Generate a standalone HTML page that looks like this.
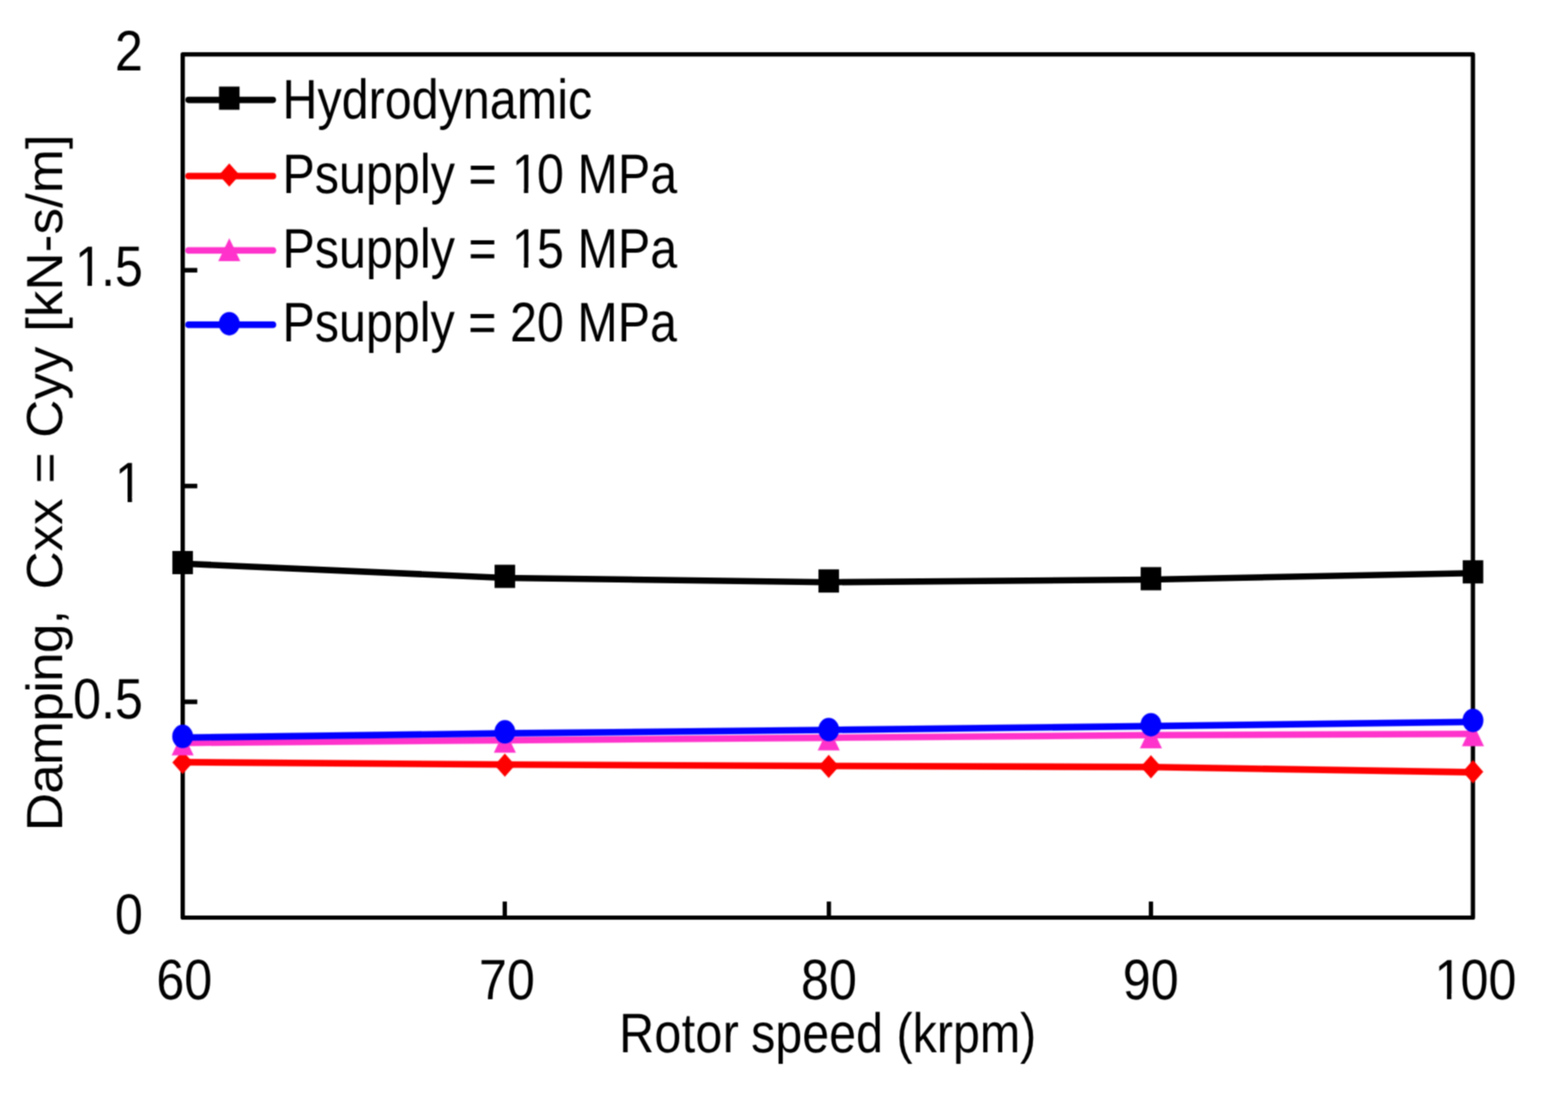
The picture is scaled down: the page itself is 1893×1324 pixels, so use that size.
<!DOCTYPE html>
<html lang="en"><head><meta charset="utf-8"><title>Damping vs rotor speed</title>
<style>html,body{margin:0;padding:0;background:#fff;}body{width:1893px;height:1324px;overflow:hidden;}svg{display:block;}text{font-family:"Liberation Sans",Arial,sans-serif;fill:#000;white-space:pre;font-kerning:none;text-rendering:geometricPrecision;}</style>
</head><body>
<svg width="1893" height="1324" viewBox="0 0 1893 1324">
<rect x="0" y="0" width="1893" height="1324" fill="#fff"/>
<defs><filter id="soft" x="0" y="0" width="1893" height="1324" filterUnits="userSpaceOnUse" color-interpolation-filters="sRGB"><feConvolveMatrix order="3" kernelMatrix="0.0529 0.1242 0.0529 0.1242 0.2916 0.1242 0.0529 0.1242 0.0529" edgeMode="duplicate"/></filter><clipPath id="c0"><path clip-rule="evenodd" d="M-50,-120H864.4V60H-50ZM475.23,-9H498.37V3H475.23ZM507.21,-9H526.23V3H507.21Z"/></clipPath><clipPath id="c1"><path clip-rule="evenodd" d="M-50,-120H864.4V60H-50ZM475.23,-9H498.37V3H475.23ZM507.21,-9H526.23V3H507.21Z"/></clipPath><clipPath id="c2"><path clip-rule="evenodd" d="M-50,-120H189.0V60H-50ZM5.50,-9H28.65V3H5.50ZM37.48,-9H56.50V3H37.48Z"/></clipPath><clipPath id="c3"><path clip-rule="evenodd" d="M-50,-120H109.1V60H-50ZM5.50,-9H28.65V3H5.50ZM37.48,-9H56.50V3H37.48Z"/></clipPath><clipPath id="c4"><path clip-rule="evenodd" d="M-50,-120H216.8V60H-50ZM5.50,-9H28.65V3H5.50ZM37.48,-9H56.50V3H37.48Z"/></clipPath></defs>
<g id="chart" filter="url(#soft)">
<rect x="0" y="0" width="1893" height="1324" fill="#fff"/>
<rect x="220.6" y="65.7" width="1557.6" height="1041.8" fill="none" stroke="#000" stroke-width="5.2" stroke-linejoin="round"/>
<line x1="220.6" y1="847.05" x2="238.20" y2="847.05" stroke="#000" stroke-width="5.5"/>
<line x1="220.6" y1="586.60" x2="238.20" y2="586.60" stroke="#000" stroke-width="5.5"/>
<line x1="220.6" y1="326.15" x2="238.20" y2="326.15" stroke="#000" stroke-width="5.5"/>
<line x1="609.40" y1="1107.5" x2="609.40" y2="1088.10" stroke="#000" stroke-width="5.2"/>
<line x1="1000.70" y1="1107.5" x2="1000.70" y2="1088.10" stroke="#000" stroke-width="5.2"/>
<line x1="1389.50" y1="1107.5" x2="1389.50" y2="1088.10" stroke="#000" stroke-width="5.2"/>
<polyline points="220.50,919.90 609.50,922.80 1000.50,924.50 1389.50,925.70 1778.30,932.10" fill="none" stroke="#ff0000" stroke-opacity="0.25" stroke-width="9.0" stroke-linejoin="round" stroke-linecap="round"/><polyline points="220.50,919.90 609.50,922.80 1000.50,924.50 1389.50,925.70 1778.30,932.10" fill="none" stroke="#ff0000" stroke-width="7.6" stroke-linejoin="round" stroke-linecap="round"/>
<polygon points="220.50,906.50 232.70,920.30 220.50,934.10 208.30,920.30" fill="#ff0000" stroke="#ff0000" stroke-opacity="0.25" stroke-width="1.4" stroke-linejoin="round"/>
<polygon points="609.50,909.70 621.70,923.50 609.50,937.30 597.30,923.50" fill="#ff0000" stroke="#ff0000" stroke-opacity="0.25" stroke-width="1.4" stroke-linejoin="round"/>
<polygon points="1000.50,911.20 1012.70,925.00 1000.50,938.80 988.30,925.00" fill="#ff0000" stroke="#ff0000" stroke-opacity="0.25" stroke-width="1.4" stroke-linejoin="round"/>
<polygon points="1389.50,911.70 1401.70,925.50 1389.50,939.30 1377.30,925.50" fill="#ff0000" stroke="#ff0000" stroke-opacity="0.25" stroke-width="1.4" stroke-linejoin="round"/>
<polygon points="1778.30,917.60 1790.50,931.40 1778.30,945.20 1766.10,931.40" fill="#ff0000" stroke="#ff0000" stroke-opacity="0.25" stroke-width="1.4" stroke-linejoin="round"/>
<polyline points="220.50,896.60 609.50,893.40 1000.50,890.40 1389.50,887.30 1778.30,885.70" fill="none" stroke="#ff33cc" stroke-opacity="0.25" stroke-width="9.0" stroke-linejoin="round" stroke-linecap="round"/><polyline points="220.50,896.60 609.50,893.40 1000.50,890.40 1389.50,887.30 1778.30,885.70" fill="none" stroke="#ff33cc" stroke-width="7.6" stroke-linejoin="round" stroke-linecap="round"/>
<polygon points="220.50,884.30 233.50,911.50 207.50,911.50" fill="#ff33cc" stroke="#ff33cc" stroke-opacity="0.25" stroke-width="1.4" stroke-linejoin="round"/>
<polygon points="609.50,881.10 622.50,908.30 596.50,908.30" fill="#ff33cc" stroke="#ff33cc" stroke-opacity="0.25" stroke-width="1.4" stroke-linejoin="round"/>
<polygon points="1000.50,878.40 1013.50,905.60 987.50,905.60" fill="#ff33cc" stroke="#ff33cc" stroke-opacity="0.25" stroke-width="1.4" stroke-linejoin="round"/>
<polygon points="1389.50,875.80 1402.50,903.00 1376.50,903.00" fill="#ff33cc" stroke="#ff33cc" stroke-opacity="0.25" stroke-width="1.4" stroke-linejoin="round"/>
<polygon points="1778.30,873.20 1791.30,900.40 1765.30,900.40" fill="#ff33cc" stroke="#ff33cc" stroke-opacity="0.25" stroke-width="1.4" stroke-linejoin="round"/>
<polyline points="220.50,890.30 609.50,885.10 1000.50,881.00 1389.50,876.40 1778.30,871.30" fill="none" stroke="#0000ff" stroke-opacity="0.25" stroke-width="9.0" stroke-linejoin="round" stroke-linecap="round"/><polyline points="220.50,890.30 609.50,885.10 1000.50,881.00 1389.50,876.40 1778.30,871.30" fill="none" stroke="#0000ff" stroke-width="7.6" stroke-linejoin="round" stroke-linecap="round"/>
<ellipse cx="220.50" cy="888.80" rx="12.40" ry="14.00" fill="#0000ff" stroke="#0000ff" stroke-opacity="0.25" stroke-width="1.4" stroke-linejoin="round"/>
<ellipse cx="609.50" cy="883.30" rx="12.40" ry="14.00" fill="#0000ff" stroke="#0000ff" stroke-opacity="0.25" stroke-width="1.4" stroke-linejoin="round"/>
<ellipse cx="1000.50" cy="880.60" rx="12.40" ry="14.00" fill="#0000ff" stroke="#0000ff" stroke-opacity="0.25" stroke-width="1.4" stroke-linejoin="round"/>
<ellipse cx="1389.50" cy="874.70" rx="12.40" ry="14.00" fill="#0000ff" stroke="#0000ff" stroke-opacity="0.25" stroke-width="1.4" stroke-linejoin="round"/>
<ellipse cx="1778.30" cy="869.50" rx="12.40" ry="14.00" fill="#0000ff" stroke="#0000ff" stroke-opacity="0.25" stroke-width="1.4" stroke-linejoin="round"/>
<polyline points="220.50,680.30 609.50,697.50 1000.50,702.70 1389.50,699.50 1778.30,691.70" fill="none" stroke="#000000" stroke-width="7.6" stroke-linejoin="round" stroke-linecap="round"/>
<rect x="208.10" y="665.00" width="24.80" height="28.00" fill="#000000"/>
<rect x="597.10" y="681.60" width="24.80" height="28.00" fill="#000000"/>
<rect x="988.10" y="687.20" width="24.80" height="28.00" fill="#000000"/>
<rect x="1377.10" y="684.45" width="24.80" height="28.00" fill="#000000"/>
<rect x="1765.90" y="676.20" width="24.80" height="28.00" fill="#000000"/>
<polyline points="227.60,120.6 329.5,120.6" fill="none" stroke="#000000" stroke-width="7.6" stroke-linejoin="round" stroke-linecap="round"/>
<rect x="264.40" y="104.50" width="24.80" height="28.00" fill="#000000"/>
<polyline points="227.60,212.5 329.5,212.5" fill="none" stroke="#ff0000" stroke-opacity="0.25" stroke-width="9.0" stroke-linejoin="round" stroke-linecap="round"/><polyline points="227.60,212.5 329.5,212.5" fill="none" stroke="#ff0000" stroke-width="7.6" stroke-linejoin="round" stroke-linecap="round"/>
<polygon points="276.80,197.50 289.00,211.30 276.80,225.10 264.60,211.30" fill="#ff0000" stroke="#ff0000" stroke-opacity="0.25" stroke-width="1.4" stroke-linejoin="round"/>
<polyline points="227.60,302.3 329.5,302.3" fill="none" stroke="#ff33cc" stroke-opacity="0.25" stroke-width="9.0" stroke-linejoin="round" stroke-linecap="round"/><polyline points="227.60,302.3 329.5,302.3" fill="none" stroke="#ff33cc" stroke-width="7.6" stroke-linejoin="round" stroke-linecap="round"/>
<polygon points="276.80,287.90 289.80,315.10 263.80,315.10" fill="#ff33cc" stroke="#ff33cc" stroke-opacity="0.25" stroke-width="1.4" stroke-linejoin="round"/>
<polyline points="227.60,391.9 329.5,391.9" fill="none" stroke="#0000ff" stroke-opacity="0.25" stroke-width="9.0" stroke-linejoin="round" stroke-linecap="round"/><polyline points="227.60,391.9 329.5,391.9" fill="none" stroke="#0000ff" stroke-width="7.6" stroke-linejoin="round" stroke-linecap="round"/>
<ellipse cx="276.80" cy="390.70" rx="12.40" ry="14.00" fill="#0000ff" stroke="#0000ff" stroke-opacity="0.25" stroke-width="1.4" stroke-linejoin="round"/>
<text transform="matrix(0.58500 0 0 0.67300 341.00 143.30)" font-size="100">Hydrodynamic</text>
<text transform="matrix(0.58500 0 0 0.67300 341.00 233.40)" font-size="100" dx="0 0 0 0 0 0 0 0 0 0 3.5 -3.5 0 0 0 0" clip-path="url(#c0)">Psupply = 10 MPa</text>
<text transform="matrix(0.58500 0 0 0.67300 341.00 322.90)" font-size="100" dx="0 0 0 0 0 0 0 0 0 0 3.5 -3.5 0 0 0 0" clip-path="url(#c1)">Psupply = 15 MPa</text>
<text transform="matrix(0.58500 0 0 0.67300 341.00 412.40)" font-size="100">Psupply = 20 MPa</text>
<text transform="matrix(0.60600 0 0 0.68800 138.80 85.30)" font-size="100">2</text>
<text transform="matrix(0.60600 0 0 0.68800 88.26 344.85)" font-size="100" dx="3.5 -3.5 0" clip-path="url(#c2)">1.5</text>
<text transform="matrix(0.60600 0 0 0.68800 136.68 606.20)" font-size="100" dx="3.5" clip-path="url(#c3)">1</text>
<text transform="matrix(0.60600 0 0 0.68800 88.26 866.65)" font-size="100">0.5</text>
<text transform="matrix(0.60600 0 0 0.68800 138.80 1127.10)" font-size="100">0</text>
<text transform="matrix(0.60600 0 0 0.68800 188.80 1205.60)" font-size="100">60</text>
<text transform="matrix(0.60600 0 0 0.68800 578.20 1205.60)" font-size="100">70</text>
<text transform="matrix(0.60600 0 0 0.68800 967.10 1205.60)" font-size="100">80</text>
<text transform="matrix(0.60600 0 0 0.68800 1355.50 1205.60)" font-size="100">90</text>
<text transform="matrix(0.60600 0 0 0.68800 1729.55 1205.60)" font-size="100" dx="3.5 -3.5 0" clip-path="url(#c4)">100</text>
<text transform="matrix(0.58450 0 0 0.67300 747.51 1269.70)" font-size="100" dx="0 0.6 0.6 0.6 0.6 0 -2.4 0 0 0 0 0 0 0 0 0 0 0">Rotor speed (krpm)</text>
<text transform="matrix(0 -0.64000 0.61400 0 74.80 1003.35)" font-size="100" dx="0 -1.45 -1.45 -1.45 -1.45 -1.45 -1.45 -1.45 0 10.15 0 0 0 0 0 0 0 0 0 0 0 0 0 0 0 0 0">Damping, Cxx = Cyy [kN-s/m]</text>
</g></svg>
</body></html>
